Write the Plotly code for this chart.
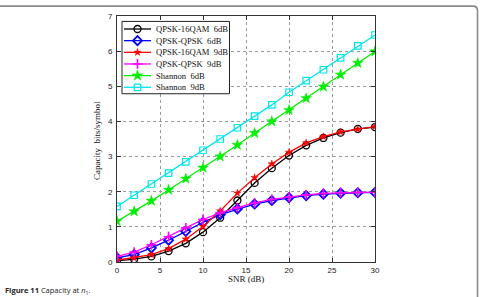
import plotly.graph_objects as go

# ---------------- data ----------------
snr = [0, 2, 4, 6, 8, 10, 12, 14, 16, 18, 20, 22, 24, 26, 28, 30]
qpsk_16qam_6db = [0.03, 0.08, 0.16, 0.31, 0.53, 0.85, 1.26, 1.75, 2.25, 2.67, 3.03, 3.32, 3.53, 3.68, 3.79, 3.84]
qpsk_qpsk_6db = [0.12, 0.21, 0.40, 0.62, 0.87, 1.13, 1.35, 1.51, 1.65, 1.75, 1.83, 1.89, 1.93, 1.96, 1.97, 1.98]
qpsk_16qam_9db = [0.05, 0.12, 0.21, 0.38, 0.65, 1.01, 1.45, 1.96, 2.40, 2.79, 3.12, 3.39, 3.57, 3.70, 3.78, 3.85]
qpsk_qpsk_9db = [0.16, 0.28, 0.49, 0.72, 0.97, 1.21, 1.40, 1.55, 1.68, 1.78, 1.85, 1.91, 1.95, 1.97, 1.98, 1.99]
shannon_6db = [1.16, 1.44, 1.74, 2.05, 2.37, 2.68, 3.00, 3.33, 3.67, 4.00, 4.32, 4.66, 4.99, 5.33, 5.66, 5.99]
shannon_9db = [1.58, 1.90, 2.22, 2.53, 2.85, 3.18, 3.50, 3.82, 4.15, 4.47, 4.83, 5.16, 5.47, 5.81, 6.15, 6.46]

series_names = ["QPSK-16QAM  6dB", "QPSK-QPSK  6dB", "QPSK-16QAM  9dB",
                "QPSK-QPSK  9dB", "Shannon  6dB", "Shannon  9dB"]
series_values = [qpsk_16qam_6db, qpsk_qpsk_6db, qpsk_16qam_9db,
                 qpsk_qpsk_9db, shannon_6db, shannon_9db]
x_ticks = [0, 5, 10, 15, 20, 25, 30]
y_ticks = [0, 1, 2, 3, 4, 5, 6, 7]

# ---------------- styles ----------------
styles = [
    dict(color="#000000", symbol="circle-open", size=7, mlw=1.3),
    dict(color="#0000ff", symbol="diamond-open", size=7, mlw=1.8),
    dict(color="#ff0000", symbol="star", size=5.5, mlw=0.5),
    dict(color="#ff00ff", symbol="cross-thin-open", size=7, mlw=1.6),
    dict(color="#00ee00", symbol="star", size=8, mlw=0.5),
    dict(color="#00e5ee", symbol="square-open", size=6.5, mlw=1.2),
]

W, H = 480, 297
L, R, T, B = 117, 105, 12, 35
PL, PR, PT, PB = L, W - R, T, H - B  # plot area in pixels

fig = go.Figure()

for name, vals, st in zip(series_names, series_values, styles):
    fig.add_trace(go.Scatter(
        x=snr, y=vals, name=name, mode="lines+markers",
        line=dict(color=st["color"], width=1.3),
        marker=dict(symbol=st["symbol"], size=st["size"], color=st["color"],
                    line=dict(color=st["color"], width=st["mlw"])),
        showlegend=False, xaxis="x", yaxis="y",
    ))

# ---------------- custom legend on a pixel-space overlay axis ----------------
lg_left, lg_right, lg_top, lg_bottom = 122, 229.5, 17.5, 91
fig.add_trace(go.Scatter(
    x=[lg_left, lg_right, lg_right, lg_left, lg_left],
    y=[lg_top, lg_top, lg_bottom, lg_bottom, lg_top],
    mode="lines", fill="toself", fillcolor="white",
    line=dict(color="#222222", width=1), showlegend=False,
    xaxis="x2", yaxis="y2", hoverinfo="skip",
))
row0, row_step = 25.2, 11.85
for i, (name, st) in enumerate(zip(series_names, styles)):
    yy = row0 + i * row_step
    fig.add_trace(go.Scatter(
        x=[124, 151], y=[yy, yy], mode="lines",
        line=dict(color=st["color"], width=1.3),
        showlegend=False, xaxis="x2", yaxis="y2", hoverinfo="skip",
    ))
    fig.add_trace(go.Scatter(
        x=[137.5], y=[yy], mode="markers",
        marker=dict(symbol=st["symbol"], size=st["size"], color=st["color"],
                    line=dict(color=st["color"], width=st["mlw"])),
        showlegend=False, xaxis="x2", yaxis="y2", hoverinfo="skip",
    ))
    fig.add_annotation(
        x=154, y=yy, xref="x2", yref="y2", text=name, showarrow=False,
        xanchor="left", yanchor="middle",
        font=dict(family="Liberation Serif", size=8.6, color="#111111"),
    )

serif = dict(family="Liberation Serif", size=9, color="#111111")

def px2paper_x(px):
    return (px - PL) / (PR - PL)

def px2paper_y(py):
    return (PB - py) / (PB - PT)

# axis titles
fig.add_annotation(x=0.5, y=px2paper_y(279.5), xref="paper", yref="paper",
                   text="SNR (dB)", showarrow=False, font=serif,
                   xanchor="center", yanchor="middle")
fig.add_annotation(x=px2paper_x(97), y=px2paper_y(139), xref="paper", yref="paper",
                   text="Capacity  bits/symbol", showarrow=False, font=serif,
                   textangle=-90, xanchor="center", yanchor="middle")

# caption
fig.add_annotation(x=px2paper_x(3), y=px2paper_y(291.5), xref="paper", yref="paper",
                   text="<b>Figure 11</b> Capacity at <i>n</i><sub>1</sub>.",
                   showarrow=False, xanchor="left", yanchor="middle",
                   font=dict(family="Open Sans", size=7.5, color="#222222"))

# page frame (top and right edge of rounded box)
fig.add_shape(type="path", xref="paper", yref="paper",
              path=f"M {px2paper_x(-2)} {px2paper_y(2)} L {px2paper_x(473)} {px2paper_y(2)} "
                   f"Q {px2paper_x(477.5)} {px2paper_y(2)} {px2paper_x(477.5)} {px2paper_y(6.5)} "
                   f"L {px2paper_x(477.5)} {px2paper_y(300)}",
              line=dict(color="#8a8a8a", width=1.6), layer="above")

axis_common = dict(
    showline=True, linecolor="#333333", linewidth=1, mirror="ticks",
    ticks="inside", ticklen=4, tickcolor="#333333",
    showgrid=True, gridcolor="#9a9a9a", griddash="dot", gridwidth=1,
    zeroline=False,
    tickfont=dict(family="Liberation Sans", size=8, color="#222222"),
)

fig.update_layout(
    width=W, height=H, autosize=False,
    margin=dict(l=L, r=R, t=T, b=B, pad=0),
    paper_bgcolor="white", plot_bgcolor="white",
    showlegend=False,
    xaxis=dict(range=[0, 30], tickvals=x_ticks, ticklabelstandoff=0, **axis_common),
    yaxis=dict(range=[0, 7], tickvals=y_ticks, ticklabelstandoff=2, **axis_common),
    xaxis2=dict(range=[PL, PR], overlaying="x", visible=False, anchor="y2", fixedrange=True),
    yaxis2=dict(range=[PB, PT], overlaying="y", visible=False, anchor="x2", fixedrange=True),
)

fig.write_html("out.html", config={"displayModeBar": False})
